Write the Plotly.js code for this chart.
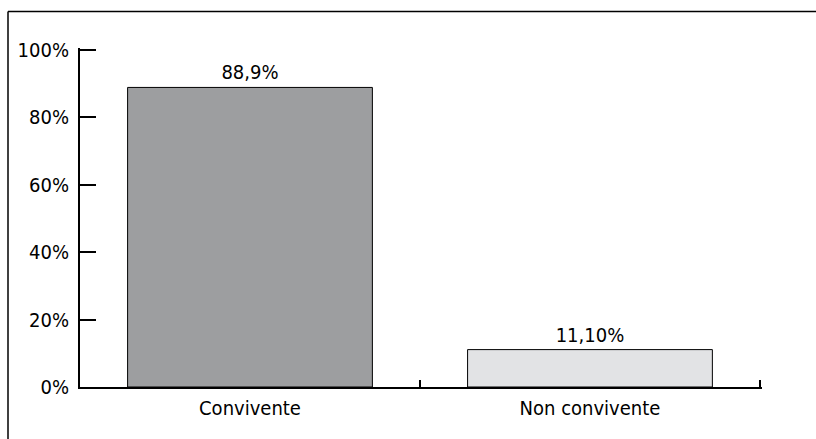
<!DOCTYPE html>
<html>
<head>
<meta charset="utf-8">
<script src="https://cdn.plot.ly/plotly-3.0.1.min.js"></script>
<style>html,body{margin:0;padding:0;background:#fff;}#chart{width:816px;height:439px;}</style>
</head>
<body>
<div id="chart"></div>
<script>
var categories = ["Convivente", "Non convivente"];
var values = [88.9, 11.1];
var valueLabels = ["88,9%", "11,10%"];
var barColors = ["#9d9ea0", "#e2e3e5"];
var yTickValues = [0, 20, 40, 60, 80, 100];
var yTickLabels = ["0%", "20%", "40%", "60%", "80%", "100%"];

var FONT = "'DejaVu Sans Condensed', 'Liberation Sans Narrow', 'Liberation Sans', Arial, sans-serif";

// plot box geometry (pixels)
var W = 816, H = 439;
var ML = 80, MR = 54, MT = 47.5, MB = 52;
var PW = W - ML - MR, PH = H - MT - MB;

var trace = {
  type: "bar",
  x: categories,
  y: values,
  text: valueLabels,
  textposition: "outside",
  texttemplate: "%{text}",
  textfont: {family: FONT, size: 20, color: "#000"},
  cliponaxis: false,
  width: 0.72,
  marker: {color: barColors, line: {color: "#000", width: 1}},
  hoverinfo: "none"
};

var layout = {
  width: W, height: H,
  margin: {l: ML, r: MR, t: MT, b: MB},
  paper_bgcolor: "#fff", plot_bgcolor: "#fff",
  showlegend: false,
  font: {family: FONT, size: 20, color: "#000"},
  xaxis: {
    type: "category",
    range: [-0.5, 1.506],
    showline: true, linecolor: "#000", linewidth: 2,
    ticks: "inside", tickson: "boundaries", ticklen: 7, tickwidth: 2, tickcolor: "#000",
    showgrid: false, zeroline: false,
    ticklabelstandoff: 2,
    tickfont: {family: FONT, size: 20, color: "#000"},
    fixedrange: true
  },
  yaxis: {
    range: [0, 100.6],
    tickmode: "array",
    tickvals: yTickValues,
    ticktext: yTickLabels,
    showline: true, linecolor: "#000", linewidth: 2,
    ticks: "inside", ticklen: 16, tickwidth: 2, tickcolor: "#000",
    showgrid: false, zeroline: false,
    ticklabelstandoff: 5,
    tickfont: {family: FONT, size: 20, color: "#000"},
    fixedrange: true
  },
  shapes: [
    {type: "line", xref: "paper", yref: "paper", x0: (8 - ML) / PW, x1: (W - ML) / PW, y0: (H - 11 - MB) / PH, y1: (H - 11 - MB) / PH, line: {color: "#000", width: 1.5}},
    {type: "line", xref: "paper", yref: "paper", x0: (8 - ML) / PW, x1: (8 - ML) / PW, y0: (H - 11 - MB) / PH, y1: -(MB + 5) / PH, line: {color: "#000", width: 1.5}}
  ]
};

Plotly.newPlot("chart", [trace], layout, {displayModeBar: false, staticPlot: true});
</script>
</body>
</html>
